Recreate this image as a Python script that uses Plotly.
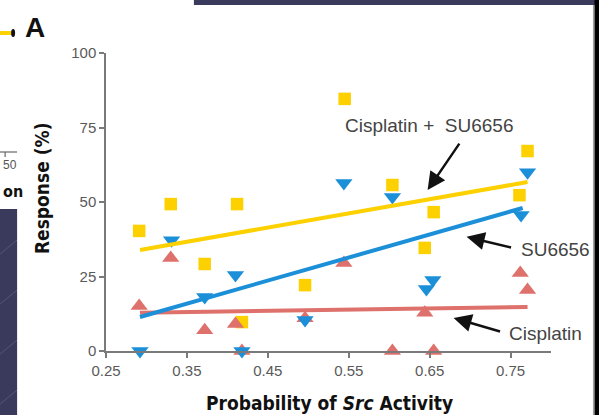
import plotly.graph_objects as go

# ---- data ----
combo_x = [0.291, 0.330, 0.372, 0.412, 0.418, 0.496, 0.545, 0.604, 0.655, 0.644, 0.771, 0.761]
combo_y = [40.3, 49.3, 29.2, 49.3, 9.7, 22.1, 84.6, 55.7, 46.6, 34.6, 67.1, 52.3]

su_x = [0.292, 0.331, 0.372, 0.410, 0.418, 0.496, 0.544, 0.604, 0.654, 0.646, 0.763, 0.771]
su_y = [0.0, 37.2, 18.1, 25.5, 0.0, 10.4, 56.4, 51.7, 23.8, 20.8, 45.6, 60.0]

cis_x = [0.291, 0.330, 0.372, 0.410, 0.418, 0.496, 0.544, 0.604, 0.655, 0.644, 0.762, 0.771]
cis_y = [15.1, 31.2, 7.0, 9.1, 0.0, 11.0, 29.5, 0.0, 0.0, 12.8, 26.2, 20.5]

combo_fit_x = [0.292, 0.771]
combo_fit_y = [33.9, 56.7]
su_fit_x = [0.292, 0.765]
su_fit_y = [11.4, 48.0]
cis_fit_x = [0.292, 0.771]
cis_fit_y = [12.8, 14.8]

x_ticks = [0.25, 0.35, 0.45, 0.55, 0.65, 0.75]
x_tick_labels = ["0.25", "0.35", "0.45", "0.55", "0.65", "0.75"]
y_ticks = [0, 25, 50, 75, 100]

YELLOW = "#FDD000"
BLUE = "#1B8FD8"
RED = "#DE716C"
NAVY = "#3A3A5C"
TITLE_FONT = "DejaVu Sans Condensed, Liberation Sans Narrow, Roboto Condensed, Liberation Sans"

W, H = 599, 415
L, R, T, B = 106, 47.5, 53, 64
PW, PH = W - L - R, H - T - B

def px(x):
    return (x - L) / PW

def py(y):
    return (H - B - y) / PH

fig = go.Figure()
fig.add_trace(go.Scatter(x=combo_x, y=combo_y, mode="markers", cliponaxis=False,
                         marker=dict(symbol="square", size=12.5, color=YELLOW)))
fig.add_trace(go.Scatter(x=cis_x, y=cis_y, mode="markers", cliponaxis=False,
                         marker=dict(symbol="triangle-up", size=15, color=RED)))
fig.add_trace(go.Scatter(x=su_x, y=su_y, mode="markers", cliponaxis=False,
                         marker=dict(symbol="triangle-down", size=15, color=BLUE)))
fig.add_trace(go.Scatter(x=cis_fit_x, y=cis_fit_y, mode="lines", line=dict(color=RED, width=4)))
fig.add_trace(go.Scatter(x=su_fit_x, y=su_fit_y, mode="lines", line=dict(color=BLUE, width=4)))
fig.add_trace(go.Scatter(x=combo_fit_x, y=combo_fit_y, mode="lines", line=dict(color=YELLOW, width=4)))

axis_common = dict(showgrid=False, zeroline=False, showline=True, linecolor="#7a7a7a",
                   linewidth=1.5, ticks="outside", ticklen=5, tickcolor="#7a7a7a",
                   tickwidth=1.5,
                   tickfont=dict(family="Liberation Sans, Arial", size=15, color="#5a5a5a"))

fig.update_xaxes(range=[0.25, 0.80], tickvals=x_ticks, ticktext=x_tick_labels, **axis_common)
fig.update_yaxes(range=[0, 100], tickvals=y_ticks, **axis_common)

ann = []
# axis titles
ann.append(dict(xref="paper", yref="paper", x=px(330), y=py(403),
                text="<b>Probability of <i>Src</i> Activity</b>",
                showarrow=False, xanchor="center", yanchor="middle",
                font=dict(family=TITLE_FONT, size=19, color="#111")))
ann.append(dict(xref="paper", yref="paper", x=px(42), y=py(188), text="<b>Response (%)</b>", textangle=-90,
                showarrow=False, xanchor="center", yanchor="middle",
                font=dict(family=TITLE_FONT, size=19, color="#111")))
lab_font = dict(family="Liberation Sans, Arial", size=19, color="#444")
ann.append(dict(xref="x", yref="y", x=0.5426, y=75.8, text="Cisplatin +  SU6656", showarrow=False,
                xanchor="left", yanchor="middle", font=lab_font))
ann.append(dict(xref="x", yref="y", x=0.761, y=33.9, text="SU6656", showarrow=False,
                xanchor="left", yanchor="middle", font=lab_font))
ann.append(dict(xref="x", yref="y", x=0.745, y=6.0, text="Cisplatin", showarrow=False,
                xanchor="left", yanchor="middle", font=lab_font))
# arrows
for (hx, hy, tx, ty) in [(0.6475, 54.0, 0.688, 70.1), (0.6957, 38.3, 0.7525, 34.6), (0.6796, 11.1, 0.7389, 6.4)]:
    ann.append(dict(xref="x", yref="y", axref="x", ayref="y", x=hx, y=hy, ax=tx, ay=ty, text="",
                    showarrow=True, arrowhead=2, arrowsize=1.5, arrowwidth=2.4, arrowcolor="#111"))
# remnants of neighbouring panel
ann.append(dict(xref="paper", yref="paper", x=px(35), y=py(27), text="<b>A</b>", showarrow=False,
                xanchor="center", yanchor="middle",
                font=dict(family="Liberation Sans, Arial", size=28, color="#111")))
ann.append(dict(xref="paper", yref="paper", x=px(1), y=py(165), text="50", showarrow=False,
                xanchor="left", yanchor="middle",
                font=dict(family="Liberation Sans, Arial", size=12, color="#555")))
ann.append(dict(xref="paper", yref="paper", x=px(0.5), y=py(191), text="<b>on</b>", showarrow=False,
                xanchor="left", yanchor="middle",
                font=dict(family=TITLE_FONT, size=16, color="#111")))

shapes = []
# dark slide background parts
shapes.append(dict(type="rect", xref="paper", yref="paper", x0=px(194), x1=px(600), y0=py(-1), y1=py(5),
                   fillcolor=NAVY, line=dict(width=0), layer="below"))
shapes.append(dict(type="rect", xref="paper", yref="paper", x0=px(-1), x1=px(17), y0=py(209), y1=py(416),
                   fillcolor=NAVY, line=dict(width=0), layer="below"))
shapes.append(dict(type="rect", xref="paper", yref="paper", x0=px(595), x1=px(600), y0=py(-1), y1=py(416),
                   fillcolor="#000000", line=dict(width=0), layer="below"))
shapes.append(dict(type="line", xref="paper", yref="paper", x0=px(594), x1=px(594), y0=py(5), y1=py(416),
                   line=dict(color="#9a9a9a", width=1)))
# faint diagonal texture on the dark block
for yy in [240, 290, 340, 390]:
    shapes.append(dict(type="line", xref="paper", yref="paper", x0=px(0), x1=px(17), y0=py(yy + 14), y1=py(yy),
                       line=dict(color="#6a6a88", width=0.6)))
# left panel remnants
shapes.append(dict(type="line", xref="paper", yref="paper", x0=px(-1), x1=px(12), y0=py(33), y1=py(33),
                   line=dict(color=YELLOW, width=4)))
shapes.append(dict(type="circle", xref="paper", yref="paper", x0=px(11), x1=px(15), y0=py(37), y1=py(29),
                   fillcolor="#111", line=dict(width=0)))
shapes.append(dict(type="line", xref="paper", yref="paper", x0=px(-1), x1=px(17), y0=py(152), y1=py(152),
                   line=dict(color="#666", width=1.2)))
shapes.append(dict(type="line", xref="paper", yref="paper", x0=px(5), x1=px(5), y0=py(152), y1=py(157),
                   line=dict(color="#666", width=1.2)))

fig.update_layout(width=W, height=H, margin=dict(l=L, r=R, t=T, b=B, pad=0),
                  paper_bgcolor="white", plot_bgcolor="white", showlegend=False,
                  annotations=ann, shapes=shapes)

fig.write_html("out.html")
